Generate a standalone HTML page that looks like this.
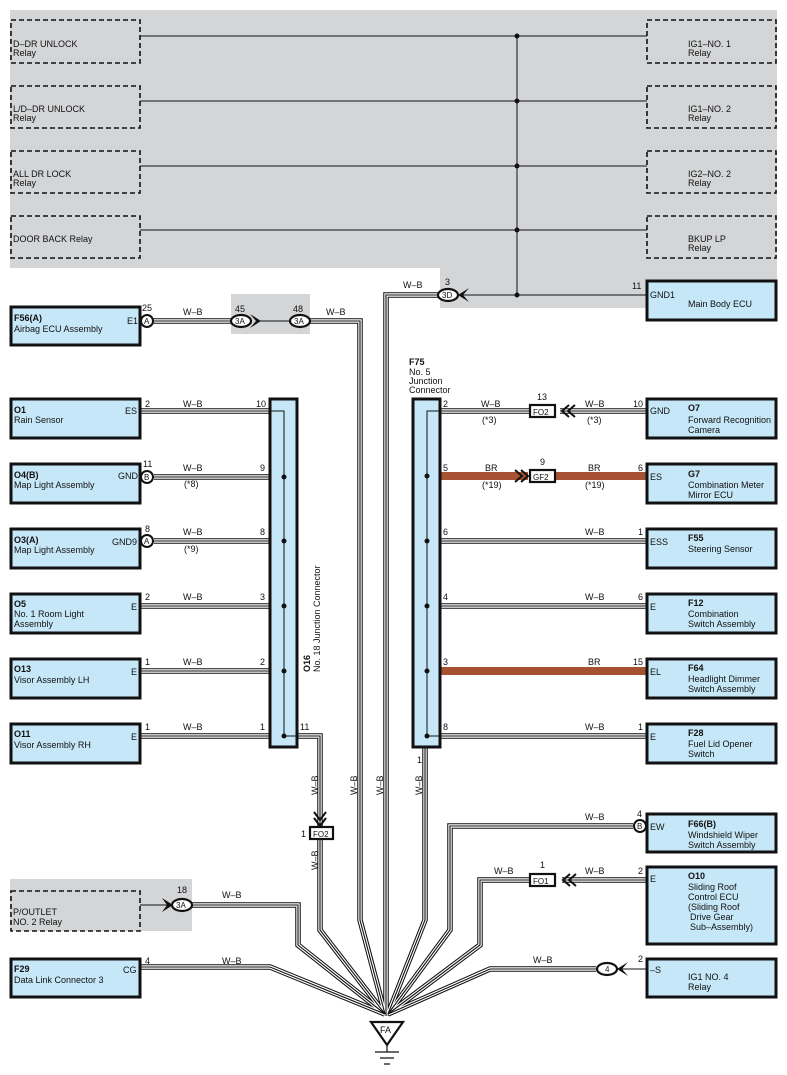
<!DOCTYPE html>
<html><head><meta charset="utf-8"><style>
html,body{margin:0;padding:0;background:#fff}
svg{display:block}
text{font-family:"Liberation Sans",sans-serif;font-size:9px;fill:#111}
.b{font-weight:bold}
.box{fill:#c6e7f7;stroke:#111;stroke-width:3}
.dash{fill:none;stroke:#111;stroke-width:1.6;stroke-dasharray:5,3}
.thin{fill:none;stroke:#111;stroke-width:1}
</style></head><body>
<svg width="787" height="1075" viewBox="0 0 787 1075" xmlns="http://www.w3.org/2000/svg">
<defs>
<g id="wires">
<path d="M153,321 H232"/>
<path d="M308,321 H360 V920 L385,1014"/>
<path d="M440,295 H386 V1016"/>
<path d="M140,411 H270"/>
<path d="M154,477 H270"/>
<path d="M154,541 H270"/>
<path d="M140,606 H270"/>
<path d="M140,671 H270"/>
<path d="M140,736 H270"/>
<path d="M297,736 H320 V826"/>
<path d="M320,840 V930 L385,1014"/>
<path d="M440,411 H530"/>
<path d="M560,411 H647"/>
<path d="M440,541 H647"/>
<path d="M440,606 H647"/>
<path d="M440,736 H647"/>
<path d="M425,747 V920 L388,1014"/>
<path d="M633,826 H450 V930 L388,1014"/>
<path d="M562,880 H647"/>
<path d="M530,880 H480 V945 L388,1014"/>
<path d="M596,969 H490 L388,1014"/>
<path d="M192,905 H298 V945 L385,1014"/>
<path d="M140,967 H270 L385,1014"/>
</g>
</defs>
<rect x="10" y="10" width="767" height="258" fill="#d4d5d7"/>
<rect x="440" y="260" width="337" height="48" fill="#d4d5d7"/>
<rect x="231" y="294" width="79" height="40" fill="#d4d5d7"/>
<rect x="10" y="879" width="182" height="52" fill="#d4d5d7"/>

<g class="thin">
<path d="M140,36 H647 M140,101 H647 M140,166 H647 M140,230 H647 M517,36 V295 M462,295 H647"/>
</g>
<g fill="#111">
<circle cx="517" cy="36" r="2.5"/><circle cx="517" cy="101" r="2.5"/><circle cx="517" cy="166" r="2.5"/><circle cx="517" cy="230" r="2.5"/><circle cx="517" cy="295" r="2.5"/>
</g>
<rect class="dash" x="11" y="20" width="129" height="43"/>
<rect class="dash" x="11" y="86" width="129" height="42"/>
<rect class="dash" x="11" y="151" width="129" height="42"/>
<rect class="dash" x="11" y="216" width="129" height="42"/>
<rect class="dash" x="647" y="20" width="129" height="43"/>
<rect class="dash" x="647" y="86" width="129" height="42"/>
<rect class="dash" x="647" y="151" width="129" height="42"/>
<rect class="dash" x="647" y="216" width="129" height="42"/>
<text x="13" y="47">D–DR UNLOCK</text><text x="13" y="56">Relay</text>
<text x="13" y="112">L/D–DR UNLOCK</text><text x="13" y="121">Relay</text>
<text x="13" y="177">ALL DR LOCK</text><text x="13" y="186">Relay</text>
<text x="13" y="242">DOOR BACK Relay</text>
<text x="688" y="47">IG1–NO. 1</text><text x="688" y="56">Relay</text>
<text x="688" y="112">IG1–NO. 2</text><text x="688" y="121">Relay</text>
<text x="688" y="177">IG2–NO. 2</text><text x="688" y="186">Relay</text>
<text x="688" y="242">BKUP LP</text><text x="688" y="251">Relay</text>

<use href="#wires" fill="none" stroke="#111" stroke-width="5.5"/>
<use href="#wires" fill="none" stroke="#fff" stroke-width="3.4"/>
<use href="#wires" fill="none" stroke="#111" stroke-width="1.1"/>
<path d="M440,476 H528 M556,476 H647 M440,671 H647" stroke="#a65232" stroke-width="8" fill="none"/>

<path class="thin" d="M258,321 H292"/>
<path d="M250,314 L261,321 L250,328 L256,321Z M300,314 L289,321 L300,328 L294,321Z" fill="#111"/>
<ellipse cx="241" cy="321" rx="10" ry="6" fill="#fff" stroke="#111" stroke-width="2.2"/>
<ellipse cx="300" cy="321" rx="10" ry="6" fill="#fff" stroke="#111" stroke-width="2.2"/>
<text x="235" y="324" style="font-size:8px">3A</text><text x="294" y="324" style="font-size:8px">3A</text>
<text x="235" y="312">45</text><text x="293" y="312">48</text>
<path d="M469,288 L458,295 L469,302 L463,295Z" fill="#111"/>
<ellipse cx="448" cy="295" rx="10" ry="6" fill="#fff" stroke="#111" stroke-width="2.2"/>
<text x="442" y="298" style="font-size:8px">3D</text><text x="445" y="285">3</text>
<text x="403" y="288">W–B</text>

<rect class="box" x="11" y="307" width="129" height="38"/>
<text class="b" x="14" y="321">F56(A)</text><text x="14" y="332">Airbag ECU Assembly</text><text x="127" y="324">E1</text>
<circle cx="147" cy="321" r="6" fill="#fff" stroke="#111" stroke-width="2"/><text x="144" y="324" style="font-size:8px">A</text>
<text x="142" y="311">25</text><text x="183" y="315">W–B</text><text x="326" y="315">W–B</text>

<rect class="box" x="11" y="399" width="129" height="39"/>
<text class="b" x="14" y="413">O1</text><text x="14" y="423">Rain Sensor</text><text x="125" y="414">ES</text>
<text x="145" y="407">2</text><text x="183" y="407">W–B</text><text x="256" y="407">10</text>

<rect class="box" x="11" y="464" width="129" height="39"/>
<text class="b" x="14" y="478">O4(B)</text><text x="14" y="488">Map Light Assembly</text><text x="118" y="479">GND</text>
<circle cx="147" cy="477" r="6" fill="#fff" stroke="#111" stroke-width="2"/><text x="144" y="480" style="font-size:8px">B</text>
<text x="143" y="467">11</text><text x="183" y="471">W–B</text><text x="184" y="487">(*8)</text><text x="260" y="471">9</text>

<rect class="box" x="11" y="529" width="129" height="39"/>
<text class="b" x="14" y="543">O3(A)</text><text x="14" y="553">Map Light Assembly</text><text x="112" y="545">GND9</text>
<circle cx="147" cy="541" r="6" fill="#fff" stroke="#111" stroke-width="2"/><text x="144" y="544" style="font-size:8px">A</text>
<text x="145" y="532">8</text><text x="183" y="535">W–B</text><text x="184" y="552">(*9)</text><text x="260" y="535">8</text>

<rect class="box" x="11" y="594" width="129" height="39"/>
<text class="b" x="14" y="607">O5</text><text x="14" y="617">No.  1 Room Light</text><text x="14" y="627">Assembly</text><text x="131" y="610">E</text>
<text x="145" y="600">2</text><text x="183" y="600">W–B</text><text x="260" y="600">3</text>

<rect class="box" x="11" y="659" width="129" height="39"/>
<text class="b" x="14" y="672">O13</text><text x="14" y="683">Visor Assembly LH</text><text x="131" y="675">E</text>
<text x="145" y="665">1</text><text x="183" y="665">W–B</text><text x="260" y="665">2</text>

<rect class="box" x="11" y="724" width="129" height="39"/>
<text class="b" x="14" y="737">O11</text><text x="14" y="748">Visor Assembly RH</text><text x="131" y="740">E</text>
<text x="145" y="730">1</text><text x="183" y="730">W–B</text><text x="260" y="730">1</text><text x="300" y="730">11</text>

<rect class="box" x="270" y="399" width="27" height="348"/>
<path class="thin" d="M270,411 H284 V736"/>
<g fill="#111"><circle cx="284" cy="477" r="2.5"/><circle cx="284" cy="541" r="2.5"/><circle cx="284" cy="606" r="2.5"/><circle cx="284" cy="671" r="2.5"/><circle cx="284" cy="736" r="2.5"/></g>
<path class="thin" d="M284,736 H297"/>
<text transform="translate(310,672) rotate(-90)" class="b">O16</text>
<text transform="translate(320,672) rotate(-90)">No.  18 Junction Connector</text>

<path d="M314,812 L320,820 L326,812 M314,818 L320,826 L326,818" fill="none" stroke="#111" stroke-width="2"/>
<rect x="310" y="827" width="23" height="12" fill="#fff" stroke="#111" stroke-width="2.2"/>
<text x="313" y="837" style="font-size:8px">FO2</text><text x="301" y="837">1</text>
<text transform="translate(318,795) rotate(-90)">W–B</text>
<text transform="translate(318,870) rotate(-90)">W–B</text>
<text transform="translate(357,795) rotate(-90)">W–B</text>
<text transform="translate(383,795) rotate(-90)">W–B</text>
<text transform="translate(422,795) rotate(-90)">W–B</text>

<text class="b" x="409" y="365">F75</text><text x="409" y="375">No.  5</text><text x="409" y="384">Junction</text><text x="409" y="393">Connector</text>
<rect class="box" x="413" y="399" width="27" height="348"/>
<path class="thin" d="M440,411 H427 V736 H440"/>
<g fill="#111"><circle cx="427" cy="476" r="2.5"/><circle cx="427" cy="541" r="2.5"/><circle cx="427" cy="606" r="2.5"/><circle cx="427" cy="671" r="2.5"/><circle cx="427" cy="736" r="2.5"/></g>
<text x="417" y="763">1</text>

<text x="443" y="407">2</text><text x="481" y="407">W–B</text><text x="482" y="423">(*3)</text>
<path d="M569,405 L562,411 L569,417 M575,405 L568,411 L575,417" fill="none" stroke="#111" stroke-width="2"/>
<rect x="530" y="405" width="25" height="12" fill="#fff" stroke="#111" stroke-width="2.2"/><text x="533" y="415" style="font-size:8px">FO2</text>
<text x="537" y="400">13</text><text x="585" y="407">W–B</text><text x="587" y="423">(*3)</text><text x="633" y="407">10</text>

<text x="443" y="471">5</text><text x="485" y="471">BR</text><text x="482" y="488">(*19)</text>
<path d="M515,470 L522,476 L515,482 M521,470 L528,476 L521,482" fill="none" stroke="#111" stroke-width="2"/>
<rect x="530" y="470" width="25" height="12" fill="#fff" stroke="#111" stroke-width="2.2"/><text x="533" y="480" style="font-size:8px">GF2</text>
<text x="540" y="465">9</text><text x="588" y="471">BR</text><text x="585" y="488">(*19)</text><text x="638" y="471">6</text>

<text x="443" y="535">6</text><text x="585" y="535">W–B</text><text x="638" y="535">1</text>
<text x="443" y="600">4</text><text x="585" y="600">W–B</text><text x="638" y="600">6</text>
<text x="443" y="665">3</text><text x="588" y="665">BR</text><text x="633" y="665">15</text>
<text x="443" y="730">8</text><text x="585" y="730">W–B</text><text x="638" y="730">1</text>

<rect class="box" x="647" y="281" width="129" height="39"/>
<text x="650" y="298">GND1</text><text x="688" y="307">Main Body ECU</text><text x="632" y="289">11</text>

<rect class="box" x="647" y="399" width="129" height="39"/>
<text x="650" y="414">GND</text><text class="b" x="688" y="411">O7</text><text x="688" y="423">Forward Recognition</text><text x="688" y="433">Camera</text>

<rect class="box" x="647" y="464" width="129" height="39"/>
<text x="650" y="480">ES</text><text class="b" x="688" y="477">G7</text><text x="688" y="488">Combination Meter</text><text x="688" y="498">Mirror ECU</text>

<rect class="box" x="647" y="529" width="129" height="39"/>
<text x="650" y="545">ESS</text><text class="b" x="688" y="541">F55</text><text x="688" y="552">Steering Sensor</text>

<rect class="box" x="647" y="594" width="129" height="39"/>
<text x="650" y="610">E</text><text class="b" x="688" y="606">F12</text><text x="688" y="617">Combination</text><text x="688" y="627">Switch Assembly</text>

<rect class="box" x="647" y="659" width="129" height="39"/>
<text x="650" y="675">EL</text><text class="b" x="688" y="671">F64</text><text x="688" y="682">Headlight Dimmer</text><text x="688" y="692">Switch Assembly</text>

<rect class="box" x="647" y="724" width="129" height="39"/>
<text x="650" y="740">E</text><text class="b" x="688" y="736">F28</text><text x="688" y="747">Fuel Lid Opener</text><text x="688" y="757">Switch</text>

<rect class="box" x="647" y="814" width="129" height="38"/>
<text x="650" y="830">EW</text><text class="b" x="688" y="827">F66(B)</text><text x="688" y="838">Windshield Wiper</text><text x="688" y="848">Switch Assembly</text>
<circle cx="640" cy="826" r="6" fill="#fff" stroke="#111" stroke-width="2"/><text x="637" y="829" style="font-size:8px">B</text>
<text x="637" y="817">4</text><text x="585" y="820">W–B</text>

<rect class="box" x="647" y="867" width="129" height="77"/>
<text x="650" y="882">E</text><text class="b" x="688" y="879">O10</text><text x="688" y="890">Sliding Roof</text><text x="688" y="900">Control ECU</text><text x="688" y="910">(Sliding Roof</text><text x="690" y="920">Drive Gear</text><text x="690" y="930">Sub–Assembly)</text>
<text x="638" y="874">2</text><text x="585" y="874">W–B</text>
<path d="M570,874 L563,880 L570,886 M576,874 L569,880 L576,886" fill="none" stroke="#111" stroke-width="2"/>
<rect x="530" y="874" width="25" height="12" fill="#fff" stroke="#111" stroke-width="2.2"/><text x="533" y="884" style="font-size:8px">FO1</text>
<text x="540" y="868">1</text><text x="494" y="874">W–B</text>

<rect class="box" x="647" y="959" width="129" height="38"/>
<text x="650" y="973">–S</text><text x="688" y="980">IG1 NO. 4</text><text x="688" y="990">Relay</text>
<path class="thin" d="M620,969 H647"/><path d="M628,962 L617,969 L628,976 L622,969Z" fill="#111"/>
<ellipse cx="607" cy="969" rx="10" ry="6" fill="#fff" stroke="#111" stroke-width="2.2"/><text x="605" y="972" style="font-size:8px">4</text>
<text x="638" y="962">2</text><text x="533" y="963">W–B</text>

<rect class="dash" x="11" y="891" width="129" height="40"/>
<text x="13" y="915">P/OUTLET</text><text x="13" y="925">NO. 2 Relay</text>
<path class="thin" d="M140,905 H168"/><path d="M162,898 L173,905 L162,912 L167,905Z" fill="#111"/>
<ellipse cx="182" cy="905" rx="10" ry="6" fill="#fff" stroke="#111" stroke-width="2.2"/><text x="176" y="908" style="font-size:8px">3A</text>
<text x="177" y="893">18</text><text x="222" y="898">W–B</text>

<rect class="box" x="11" y="959" width="129" height="38"/>
<text class="b" x="14" y="972">F29</text><text x="14" y="983">Data Link Connector 3</text><text x="123" y="973">CG</text>
<text x="145" y="964">4</text><text x="222" y="964">W–B</text>

<path d="M371,1022 H403 L387,1045Z" fill="#fff" stroke="#111" stroke-width="2.2"/>
<text x="380" y="1033">FA</text>
<path d="M387,1045 V1052 M375,1052 H399 M380,1058 H394 M384,1064 H390" stroke="#111" stroke-width="1.2"/>
</svg>
</body></html>
